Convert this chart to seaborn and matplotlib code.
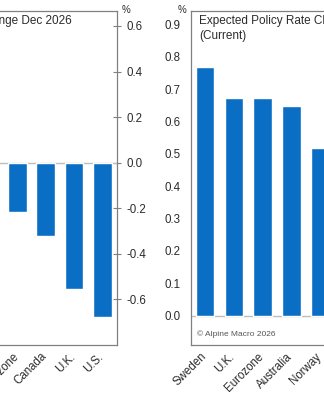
import matplotlib
matplotlib.use("Agg")
import matplotlib.pyplot as plt
import seaborn as sns
import pandas as pd
import numpy as np
from matplotlib.ticker import FormatStrFormatter
from matplotlib.transforms import ScaledTranslation

# ---- data ----
left_countries = ["Eurozone", "Canada", "U.K.", "U.S."]
left_values = [-0.215, -0.32, -0.555, -0.675]
left_ticks = [-0.6, -0.4, -0.2, 0.0, 0.2, 0.4, 0.6]
right_countries = ["Sweden", "U.K.", "Eurozone", "Australia", "Norway"]
right_values = [0.77, 0.672, 0.672, 0.647, 0.517]
right_ticks = [0.0, 0.1, 0.2, 0.3, 0.4, 0.5, 0.6, 0.7, 0.8, 0.9]
left_title = "Expected Policy Rate Change Dec 2026"
right_title = "Expected Policy Rate Change\n(Current)"
unit_label = "%"
source = "\u00a9 Alpine Macro 2026"

BLUE = "#0A6EC4"
SPINE = "#808080"
TXT = "#2b2b2b"

sns.set_theme(style="white")
plt.rcParams['font.family'] = ['Liberation Sans', 'DejaVu Sans']
plt.rcParams['axes.unicode_minus'] = False

W, H = 324, 400
fig = plt.figure(figsize=(W / 100, H / 100), dpi=100)


def px(x0, y_top, w, h):
    return [x0 / W, (H - y_top - h) / H, w / W, h / H]


cwL, cwR = 28.4, 28.8
axL = fig.add_axes(px(116.7 - 5 * cwL, 10.7, 5 * cwL, 334.3))
axR = fig.add_axes(px(190.7, 10.7, 5 * cwR, 334.3))

dfL = pd.DataFrame({"country": left_countries, "value": left_values})
dfR = pd.DataFrame({"country": right_countries, "value": right_values})

sns.barplot(data=dfL, x="country", y="value", color=BLUE, saturation=1,
            width=0.65, ax=axL, zorder=2)
sns.barplot(data=dfR, x="country", y="value", color=BLUE, saturation=1,
            width=0.65, ax=axR, zorder=2)

for ax in (axL, axR):
    ax.axhline(0, color="#bdbdbd", lw=1.0, zorder=1)
    ax.set_xlabel("")
    ax.set_ylabel("")
    for s in ax.spines.values():
        s.set_color(SPINE)
        s.set_linewidth(0.9)
    ax.tick_params(axis="x", which="major", length=0, labelsize=8.3,
                   labelcolor=TXT, pad=4)
    ax.tick_params(axis="x", which="minor", direction="in", length=4,
                   width=0.8, color=SPINE)
    ax.tick_params(axis="y", direction="inout", length=6, width=0.8,
                   color=SPINE, labelsize=8.3, labelcolor=TXT, pad=4)
    ax.yaxis.set_major_formatter(FormatStrFormatter("%.1f"))

# left panel
axL.set_xlim(-1.5, 3.5)
axL.set_ylim(-0.8, 0.667)
axL.yaxis.tick_right()
axL.set_yticks(left_ticks)
axL.set_xticks(range(len(left_countries)))
axL.set_xticklabels(left_countries, rotation=45, ha="right",
                    rotation_mode="anchor")
axL.set_xticks(np.arange(-0.5, len(left_countries) - 1, 1.0), minor=True)

# right panel
axR.set_xlim(-0.5, 4.5)
axR.set_ylim(-0.0907, 0.943)
axR.set_yticks(right_ticks)
axR.set_xticks(range(len(right_countries)))
axR.set_xticklabels(right_countries, rotation=45, ha="right",
                    rotation_mode="anchor")
axR.set_xticks(np.arange(0.5, len(right_countries) - 0.5, 1.0), minor=True)

shift = ScaledTranslation(-5 / 100, 0, fig.dpi_scale_trans)
for ax in (axL, axR):
    for lab in ax.get_xticklabels():
        lab.set_transform(lab.get_transform() + shift)

# texts
fig.text(72 / W, 1 - 21 / H, left_title, ha="right", va="center",
         fontsize=8.5, color=TXT)
fig.text(199.3 / W, 1 - 15 / H, right_title, ha="left", va="top",
         fontsize=8.5, color=TXT, linespacing=1.3)
fig.text(125.5 / W, 1 - 10 / H, unit_label, ha="center", va="center",
         fontsize=7, color=TXT)
fig.text(182.5 / W, 1 - 10 / H, unit_label, ha="center", va="center",
         fontsize=7, color=TXT)
fig.text(197 / W, 1 - 334 / H, source, ha="left", va="center",
         fontsize=6, color="#555555")

fig.savefig("out.png", dpi=100)
